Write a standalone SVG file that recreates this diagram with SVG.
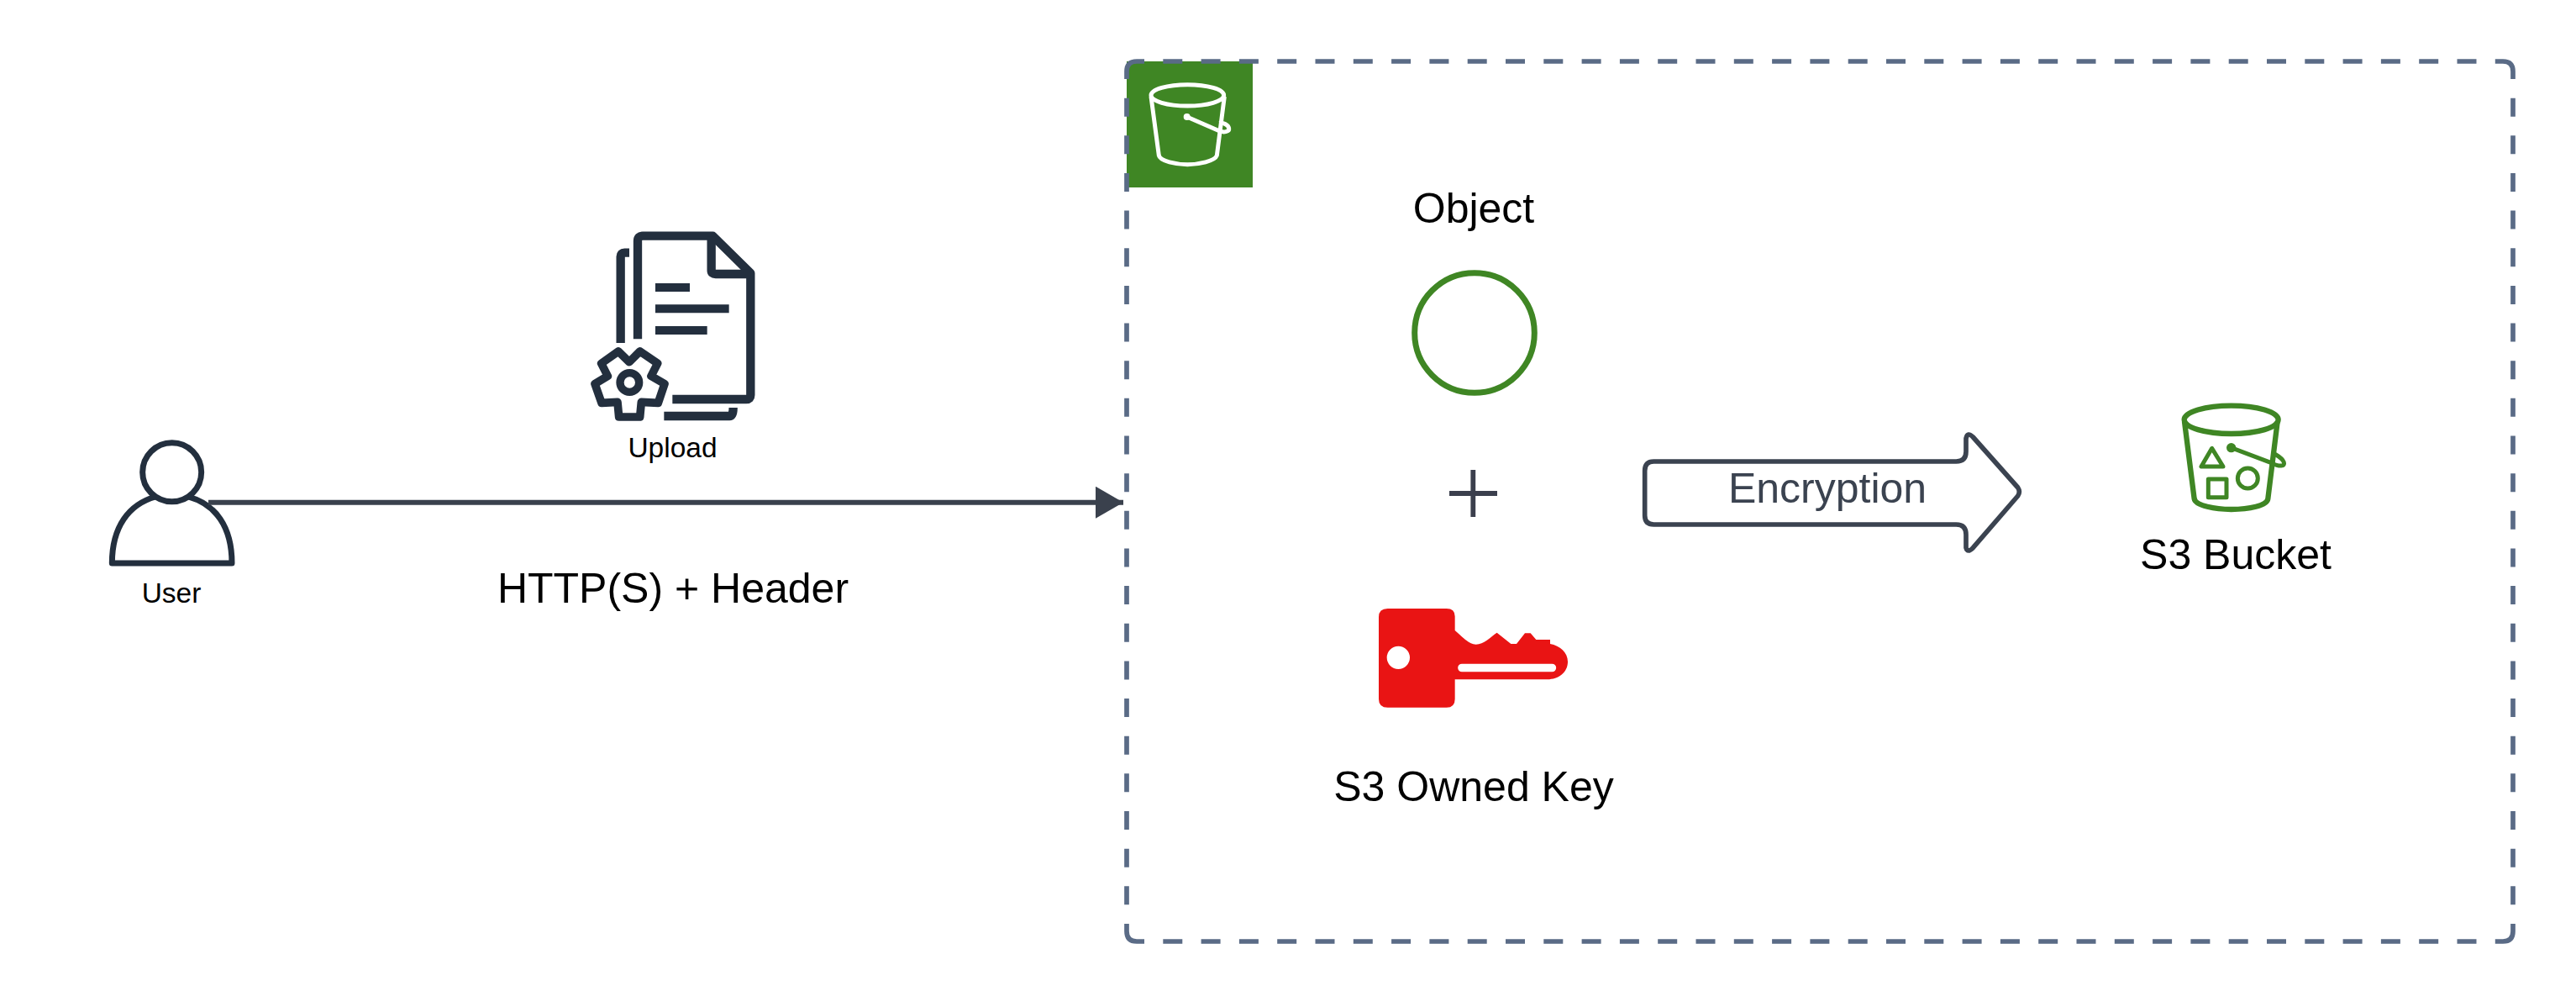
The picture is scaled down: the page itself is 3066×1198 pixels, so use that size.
<svg xmlns="http://www.w3.org/2000/svg" width="3066" height="1198" viewBox="0 0 3066 1198">
<style>
text{font-family:"Liberation Sans",Arial,sans-serif;fill:#000;text-anchor:middle}
.big{font-size:50px}
.small{font-size:33.5px}
.ink{fill:none;stroke:#232F3E;stroke-linejoin:round}
.zoom{fill:none;stroke-linejoin:round}
.edge{fill:none;stroke:#5A6B86;stroke-width:5.700}
.h{stroke-dasharray:23 22.300;stroke-dashoffset:23}
.v{stroke-dasharray:22 22.650;stroke-dashoffset:22}
</style>
<defs>
<marker id="arrow" markerUnits="userSpaceOnUse" markerWidth="34" markerHeight="38" refX="33" refY="19" orient="auto"><path d="M0 0L33 19L0 38Z" fill="#3A414D"/></marker>
</defs>
<rect width="3066" height="1198" fill="#fff"/>
<g id="bucket-group">
<rect x="1341" y="73" width="150" height="150" fill="#3F8624"/>
<path class="edge h" d="M1362 73H2970"/>
<path class="edge h" d="M1362 1120H2970"/>
<path class="edge v" d="M1341 94V1099"/>
<path class="edge v" d="M2991 94V1099"/>
<path class="edge" d="M1341 94V85Q1341 73 1353 73H1362M2970 73H2979Q2991 73 2991 85V94M2991 1099V1108Q2991 1120 2979 1120H2970M1362 1120H1353Q1341 1120 1341 1108V1099"/>
<g transform="translate(1320 50) scale(.33333)" class="zoom" stroke="#fff" stroke-width="15">
<ellipse cx="280" cy="190" rx="130" ry="38"/>
<path d="M150 195L178 405C182 425 240 437 280 437C320 437 378 425 385 405L412 195"/>
<path d="M278 267L390 316C410 325 430 320 428 308C426 296 405 285 395 290"/>
<circle cx="278" cy="267" r="12" fill="#fff" stroke="none"/>
</g>
</g>
<g id="upload">
<g transform="translate(680 260) scale(.33333)" class="ink">
<path stroke-width="31" d="M237 430V80Q237 62 255 62H505L640 195V630Q640 645 625 645H361"/>
<path stroke-width="31" d="M500 65V185Q500 198 515 198H640"/>
<path stroke-width="31" d="M207 122H190Q176 122 176 136V444"/>
<path stroke-width="31" d="M331 705H565Q578 705 578 675"/>
<path d="M300 231H423V261H300ZM300 307H563V337H300ZM300 384H485V414H300Z" fill="#232F3E" stroke="none"/>
<circle cx="208" cy="585" r="34" stroke-width="28"/>
<path stroke-width="29" d="M168 474L207 512L245 474L308 517L285 562L333 590L310 658L250 655L245 708H170L165 655L108 658L84 590L130 562L107 517Z"/>
</g>
<text class="small" x="800.500" y="544">Upload</text>
</g>
<g id="user">
<g transform="translate(110 510) scale(.33333)" class="ink" stroke-width="21">
<circle cx="284" cy="155" r="105"/>
<path d="M225 243C130 270 70 350 70 480H498C498 350 440 270 343 243"/>
</g>
<text class="small" x="204" y="717">User</text>
</g>
<g id="object">
<text class="big" x="1754" y="265">Object</text>
<circle cx="1755" cy="396" r="71.300" fill="none" stroke="#3F8624" stroke-width="7"/>
</g>
<g id="plus"><path d="M1753.300 559V615M1725 587H1782" fill="none" stroke="#3B3F4D" stroke-width="5.800"/></g>
<g id="key">
<path transform="translate(1620 700) scale(.33333)" fill="#E91414" fill-rule="evenodd" d="M95 72H305Q335 72 335 100V150C360 170 380 198 410 200C440 200 460 175 485 158L535 198H555L585 160H605L625 183H675V198C710 205 738 228 738 262C738 300 705 325 665 325H335V395Q335 425 305 425H95Q63 425 63 395V102Q63 72 95 72ZM92 247A41 41 0 1 0 174 247A41 41 0 1 0 92 247ZM360 269H682A14.500 14.500 0 0 1 682 298H360A14.500 14.500 0 0 1 360 269Z"/>
<text class="big" x="1754" y="953">S3 Owned Key</text>
</g>
<g id="encryption">
<path transform="translate(1940 500) scale(.33333)" fill="none" stroke="#3B4350" stroke-width="17" stroke-linejoin="round" d="M85 147H1165Q1200 147 1200 112V65Q1205 40 1225 60L1385 240Q1395 255 1385 270L1225 455Q1205 475 1200 455V408Q1200 372 1165 372H85Q53 372 53 340V180Q53 147 85 147Z"/>
<text x="2175" y="598" font-size="50" style="fill:#3B4350">Encryption</text>
</g>
<g id="s3-bucket">
<g transform="translate(2570 460) scale(.33333)" class="zoom" stroke="#3F8624">
<ellipse cx="257" cy="118" rx="168" ry="50" stroke-width="19"/>
<path stroke-width="19" d="M90 125L125 400C130 425 200 438 257 438C320 438 385 425 388 400L422 125"/>
<path stroke-width="15" d="M188 220L150 285H228Z"/>
<rect x="175" y="330" width="65" height="65" stroke-width="15"/>
<circle cx="316" cy="327" r="36" stroke-width="15"/>
<path stroke-width="15" d="M257 218L400 272C430 287 450 285 445 270C440 255 420 245 412 240"/>
<circle cx="257" cy="218" r="17" fill="#3F8624" stroke="none"/>
</g>
<text class="big" x="2661" y="677">S3 Bucket</text>
</g>
<g id="connectors">
<line x1="248" y1="597.700" x2="1337" y2="597.700" stroke="#3A414D" stroke-width="6" marker-end="url(#arrow)"/>
</g>
<text class="big" x="801" y="717">HTTP(S) + Header</text>
</svg>
